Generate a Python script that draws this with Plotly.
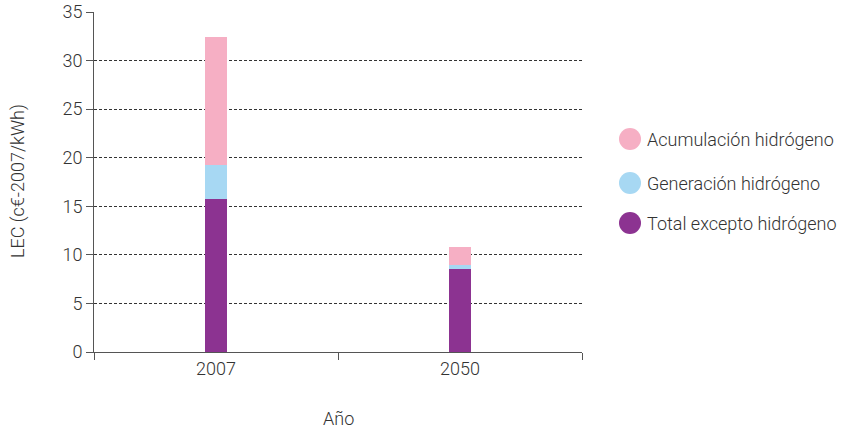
import plotly.graph_objects as go

years = ["2007", "2050"]
series_names = ["Total excepto hidrógeno", "Generación hidrógeno", "Acumulación hidrógeno"]
total_excepto = [15.8, 8.5]
generacion = [3.45, 0.45]
acumulacion = [13.2, 1.85]
colors = ["#8C3391", "#A7D8F3", "#F6AFC4"]
y_ticks = [0, 5, 10, 15, 20, 25, 30, 35]
x_title = "Año"
y_title = "LEC (c€-2007/kWh)"

fig = go.Figure()
for name, vals, c in zip(series_names, [total_excepto, generacion, acumulacion], colors):
    fig.add_trace(go.Bar(x=years, y=vals, name=name, marker=dict(color=c, line=dict(width=0)),
                         width=0.09, showlegend=False))

font = "Roboto, Liberation Sans, Arial, sans-serif"
txt = "#333333"
fig.update_layout(
    barmode="stack",
    width=844, height=430,
    margin=dict(l=94, r=262, t=12, b=78),
    plot_bgcolor="white", paper_bgcolor="white",
    font=dict(family=font, size=18, color=txt, weight=300),
    xaxis=dict(
        type="category", tickson="boundaries", ticks="outside", ticklen=7, tickcolor="#555",
        showline=True, linecolor="#555", linewidth=1, showgrid=False, automargin=False,
        tickfont=dict(size=18),
    ),
    yaxis=dict(
        range=[0, 35], tickvals=y_ticks, ticks="outside", ticklen=7, tickcolor="#555",
        showline=True, linecolor="#555", linewidth=1, automargin=False,
        showgrid=True, gridcolor="#333", griddash="3px,2px", gridwidth=1,
        zeroline=False, tickfont=dict(size=18),
    ),
)

# axis titles
fig.add_annotation(xref="paper", yref="paper", x=0.5, y=(352 - 418) / 340, text=x_title,
                   showarrow=False, xanchor="center", yanchor="middle",
                   font=dict(size=18, color=txt, weight=300))
fig.add_annotation(xref="paper", yref="paper", x=(18 - 94) / 488, y=(352 - 181) / 340, text=y_title,
                   textangle=-90, showarrow=False, xanchor="center", yanchor="middle",
                   font=dict(size=18, color=txt, weight=300))

# manual legend with circles (top to bottom: reversed order)
legend_y = [139, 183, 223]
for i, (name, c) in enumerate(zip(series_names[::-1], colors[::-1])):
    fig.add_shape(type="circle", xref="paper", yref="paper",
                  x0=(619 - 94) / 488, x1=(641 - 94) / 488,
                  y0=(352 - legend_y[i] - 11) / 340, y1=(352 - legend_y[i] + 11) / 340,
                  fillcolor=c, line=dict(width=0))
    fig.add_annotation(xref="paper", yref="paper", x=(645 - 94) / 488,
                       y=(352 - legend_y[i]) / 340, text=name, showarrow=False,
                       xanchor="left", yanchor="middle", font=dict(size=18, color=txt, weight=300))

fig.write_html("out.html", config={"displayModeBar": False},
               post_script="document.body.style.margin='0';document.body.style.overflow='hidden';")
